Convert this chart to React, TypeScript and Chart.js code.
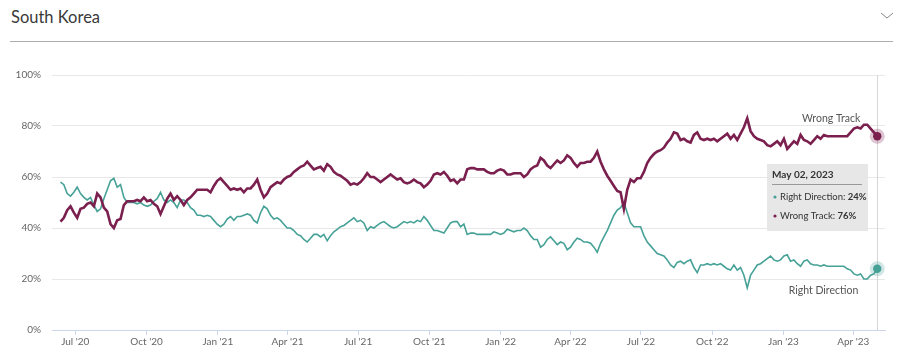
import { useEffect, useRef } from "react";
import { Chart, registerables } from "chart.js";

Chart.register(...registerables);

const title = "South Korea";
const seriesNames = ["Right Direction", "Wrong Track"];
const startDate = "2020-06-12";
const endDate = "2023-05-02";
const axisMinDate = "2020-06-01";
const axisMaxDate = "2023-05-12";
const tickDates = [
  "2020-07-01", "2020-10-01", "2021-01-01", "2021-04-01", "2021-07-01", "2021-10-01",
  "2022-01-01", "2022-04-01", "2022-07-01", "2022-10-01", "2023-01-01", "2023-04-01",
];
const tickLabels = [
  "Jul '20", "Oct '20", "Jan '21", "Apr '21", "Jul '21", "Oct '21",
  "Jan '22", "Apr '22", "Jul '22", "Oct '22", "Jan '23", "Apr '23",
];
const yTicks = [0, 20, 40, 60, 80, 100];

const rightDirection = [
  58, 57, 53.5, 52.5, 54, 56, 53.5, 52, 51, 52,
  49, 46.5, 47.5, 51.5, 55, 58.5, 59.5, 56, 57, 52,
  50, 50, 50, 49.5, 50, 49, 48.5, 49, 50.5, 51.5,
  54, 51, 50, 51, 50, 48, 51, 51, 50, 48,
  47, 45, 45, 44.5, 45, 44.5, 43, 41.5, 40.5, 41.5,
  43.5, 44.5, 43, 44.5, 44.5, 45, 45.5, 45, 43, 42,
  46, 48.5,
  47.5, 45, 43.5, 44, 43, 41.5, 40, 40, 39, 37.5,
  37, 35.5, 34.5, 36, 37.5, 37.5, 36.5, 37.5, 35, 37,
  38.5, 39.5, 40.5, 41, 42, 43, 44, 42.5, 43, 42,
  39, 40.5, 40, 41, 42, 42.5, 41.5, 40.5, 40, 40.5,
  41.5, 42.5, 42, 42.5, 42, 43, 42.5, 44.5, 43, 41,
  39, 39, 38.5, 38, 40, 42, 42.5, 42.5, 40.5, 41.5,
  37.5, 38,
  38, 37.5, 37.5, 37.5, 37.5, 37.5, 38.5, 38, 37.5, 38,
  39.5, 39, 38.5, 39, 39, 40, 39, 37, 35.5, 35.5,
  32.5, 33.5, 35.5, 36.5, 35, 33.5, 34.5, 34, 31.5, 32.5,
  34.5, 36, 35.5, 34.5, 34.5, 34, 32.5, 30.5, 34, 36.5,
  39, 42, 45, 47, 48, 50, 46, 42, 40.5, 40.5,
  40.5, 37, 34.5, 33, 31.5, 30, 29.5, 29, 27.5, 25.5,
  24.5,
  26.5, 27, 26, 27, 27.5, 24.5, 22.5, 25.5, 25.5, 26,
  25.5, 26, 25.5, 26, 25, 24, 23.5, 25.5, 23.5, 24.5,
  21.5, 16.5, 21.5, 23.5, 25.5, 26, 27, 28, 29, 27.5,
  27, 27.5, 29, 29.5, 27, 27.5, 26, 25, 27, 27.5,
  26, 25.5, 25.5, 25, 25.5, 25, 25, 25, 25, 25,
  25, 24, 23.5, 22, 21.5, 22, 20, 20, 21.5, 22,
  24,
];

const wrongTrack = [
  42.5, 44, 47, 48.5, 46, 44, 47.5, 48, 49.5, 50,
  48.5, 53.5, 52, 48, 46.5, 41.5, 40, 43, 43.5, 49,
  50.5, 50.5, 50.5, 51, 50.5, 52, 50.5, 51, 49.5, 48.5,
  45.5, 48.5, 51.5, 53.5, 51, 52.5, 51, 49, 51, 52,
  53.5, 55, 55, 55, 55, 54, 56.5, 58.5, 59.5, 58,
  56.5, 55, 55.5, 55, 55.5, 54, 55.5, 55.5, 57, 59,
  55, 52,
  53.5, 56, 57, 58, 57.5, 59, 60, 60.5, 62, 63,
  64, 64.5, 66, 64.5, 63, 63.5, 64, 62.5, 65, 64,
  62, 61, 60.5, 59.5, 58.5, 57, 57.5, 57, 58, 59.5,
  61.5, 60, 60, 59, 58, 59, 60, 61, 60, 59,
  59.5, 58, 57.5, 58, 59, 58, 57.5, 56, 57, 58.5,
  61, 61.5, 61, 62, 60.5, 58.5, 59, 57.5, 59, 59,
  63, 63.5,
  63.5, 63, 63, 63, 62, 61.5, 61.5, 62.5, 63, 62.5,
  61, 61, 61.5, 61.5, 61.5, 60, 61, 63, 64, 64.5,
  67.5, 66.5, 64.5, 63.5, 65, 66.5, 65.5, 66.5, 68.5, 67.5,
  65.5, 64, 65.5, 65.5, 66, 66, 67.5, 70, 66, 63,
  60.5, 58.5, 56.5, 54.5, 54, 47.5, 55, 59, 58, 59.5,
  59.5, 62, 65.5, 67.5, 69, 70, 70.5, 71.5, 73.5, 75,
  77.5,
  77, 74.5, 75, 74, 73.5, 76.5, 77.5, 75, 74.5, 75,
  74.5, 75, 74, 75, 76, 77, 75, 76.5, 74.5, 77,
  79.5, 83, 78, 76, 75, 74.5, 74, 72.5, 72, 73,
  74, 72.5, 75, 71, 72.5, 74, 73, 76.5, 74.5, 74,
  73, 74.5, 76, 75, 76.5, 76, 76, 76, 76, 76,
  76, 76, 77.5, 79, 79.5, 79, 80.5, 80.5, 79, 77.5,
  76,
];

const RD_COLOR = "#46a197";
const WT_COLOR = "#7a1f4e";
const FONT = "Lato, 'Open Sans', sans-serif";
const MONTHS = ["Jan", "Feb", "Mar", "Apr", "May", "Jun", "Jul", "Aug", "Sep", "Oct", "Nov", "Dec"];

const t = (s: string) => new Date(s + "T00:00:00Z").getTime();

function toPoints(values: number[]) {
  const t0 = t(startDate);
  const t1 = t(endDate);
  const step = (t1 - t0) / (values.length - 1);
  return values.map((v, i) => ({ x: t0 + i * step, y: v }));
}

function fmtDate(s: string) {
  const d = new Date(s + "T00:00:00Z");
  const dd = String(d.getUTCDate()).padStart(2, "0");
  return `${MONTHS[d.getUTCMonth()]} ${dd}, ${d.getUTCFullYear()}`;
}

const overlayPlugin = {
  id: "overlay",
  beforeDatasetsDraw(chart: any) {
    const ctx = chart.ctx;
    const area = chart.chartArea;
    const meta = chart.getDatasetMeta(0);
    const p = meta.data[meta.data.length - 1];
    ctx.save();
    ctx.strokeStyle = "#d6d6d6";
    ctx.lineWidth = 1;
    ctx.beginPath();
    const x = Math.round(p.x) + 0.5;
    ctx.moveTo(x, area.top);
    ctx.lineTo(x, area.bottom);
    ctx.stroke();
    ctx.restore();
  },
  afterDatasetsDraw(chart: any) {
    const ctx = chart.ctx;
    const area = chart.chartArea;
    const mRD = chart.getDatasetMeta(0);
    const mWT = chart.getDatasetMeta(1);
    const pRD = mRD.data[mRD.data.length - 1];
    const pWT = mWT.data[mWT.data.length - 1];
    ctx.save();
    const dots: [any, string, string][] = [
      [pRD, RD_COLOR, "rgba(70,161,151,0.25)"],
      [pWT, WT_COLOR, "rgba(122,31,78,0.25)"],
    ];
    for (const [p, c, h] of dots) {
      ctx.fillStyle = h;
      ctx.beginPath();
      ctx.arc(p.x, p.y, 7.5, 0, Math.PI * 2);
      ctx.fill();
      ctx.fillStyle = c;
      ctx.beginPath();
      ctx.arc(p.x, p.y, 4.2, 0, Math.PI * 2);
      ctx.fill();
    }
    ctx.fillStyle = "#555";
    ctx.font = `10.5px ${FONT}`;
    ctx.textAlign = "right";
    ctx.textBaseline = "middle";
    ctx.fillText(seriesNames[1], pWT.x - 17, pWT.y - 18);
    ctx.fillText(seriesNames[0], pRD.x - 19, pRD.y + 22);

    const bx = Math.round(pWT.x) - 110;
    const by = area.top + 89;
    const bw = 101;
    const bh = 67;
    ctx.fillStyle = "rgba(230,230,230,0.95)";
    ctx.fillRect(bx, by, bw, bh);
    ctx.textAlign = "left";
    ctx.fillStyle = "#333";
    ctx.font = `bold 10px ${FONT}`;
    ctx.fillText(fmtDate(endDate), bx + 5, by + 11);
    ctx.strokeStyle = "#9a9a9a";
    ctx.lineWidth = 1;
    ctx.beginPath();
    ctx.moveTo(bx + 5, by + 20.5);
    ctx.lineTo(bx + 95, by + 20.5);
    ctx.stroke();
    const rows: [string, string, number][] = [
      [seriesNames[0], RD_COLOR, rightDirection[rightDirection.length - 1]],
      [seriesNames[1], WT_COLOR, wrongTrack[wrongTrack.length - 1]],
    ];
    rows.forEach(([name, color, val], i) => {
      const y = by + 33 + i * 19;
      ctx.fillStyle = color;
      ctx.beginPath();
      ctx.arc(bx + 8, y, 1.6, 0, Math.PI * 2);
      ctx.fill();
      ctx.fillStyle = "#333";
      ctx.font = `9.5px ${FONT}`;
      const label = `${name}: `;
      ctx.fillText(label, bx + 13, y);
      const w = ctx.measureText(label).width;
      ctx.font = `bold 9.5px ${FONT}`;
      ctx.fillText(`${Math.round(val)}%`, bx + 13 + w, y);
    });
    ctx.restore();
  },
};

export default function App() {
  const ref = useRef<HTMLCanvasElement>(null);

  useEffect(() => {
    document.body.style.margin = "0";
    const tickTimes = tickDates.map(t);
    const chart = new Chart(ref.current!, {
      type: "line",
      data: {
        datasets: [
          {
            label: seriesNames[0],
            data: toPoints(rightDirection),
            borderColor: RD_COLOR,
            borderWidth: 1.6,
            pointRadius: 0,
            tension: 0,
            order: 1,
          },
          {
            label: seriesNames[1],
            data: toPoints(wrongTrack),
            borderColor: WT_COLOR,
            borderWidth: 2.6,
            pointRadius: 0,
            tension: 0,
            order: 0,
          },
        ],
      },
      options: {
        animation: false,
        responsive: true,
        maintainAspectRatio: false,
        events: [],
        layout: { padding: { top: 75, right: 15, left: 0, bottom: 0 } },
        plugins: { legend: { display: false }, tooltip: { enabled: false } },
        scales: {
          x: {
            type: "linear",
            min: t(axisMinDate),
            max: t(axisMaxDate),
            afterBuildTicks: (s: any) => {
              s.ticks = tickTimes.map((v) => ({ value: v }));
            },
            afterFit: (s: any) => {
              s.height = 34;
            },
            ticks: {
              autoSkip: false,
              maxRotation: 0,
              padding: 1,
              color: "#666",
              font: { family: FONT, size: 10 },
              callback: (_v: any, i: number) => tickLabels[i],
            },
            grid: { drawOnChartArea: false, drawTicks: true, tickLength: 5, color: "#ccd6eb" },
            border: { color: "#ccd6eb" },
          },
          y: {
            min: 0,
            max: 100,
            afterBuildTicks: (s: any) => {
              s.ticks = yTicks.map((v) => ({ value: v }));
            },
            afterFit: (s: any) => {
              s.width = 52;
            },
            ticks: {
              padding: 11,
              color: "#666",
              font: { family: FONT, size: 10 },
              callback: (v: any) => `${v}%`,
            },
            grid: {
              drawTicks: false,
              color: (c: any) => (c.tick && c.tick.value === 0 ? "rgba(0,0,0,0)" : "#e8e8e8"),
            },
            border: { display: false },
          },
        },
      } as any,
      plugins: [overlayPlugin],
    });
    return () => chart.destroy();
  }, []);

  return (
    <div style={{ position: "relative", width: 900, height: 364, background: "#fff", fontFamily: FONT }}>
      <div style={{ position: "absolute", left: 11, top: 5, fontSize: 16.5, color: "#3a3a3a", lineHeight: "24px" }}>
        {title}
      </div>
      <svg style={{ position: "absolute", left: 878, top: 8 }} width={18} height={14}>
        <polyline points="3,5 9,10 15,5" fill="none" stroke="#888" strokeWidth={1} />
      </svg>
      <div style={{ position: "absolute", left: 10, top: 41, width: 883, height: 1, background: "#adadad" }} />
      <div style={{ position: "absolute", left: 0, top: 0, width: 900, height: 364 }}>
        <canvas ref={ref} />
      </div>
    </div>
  );
}
